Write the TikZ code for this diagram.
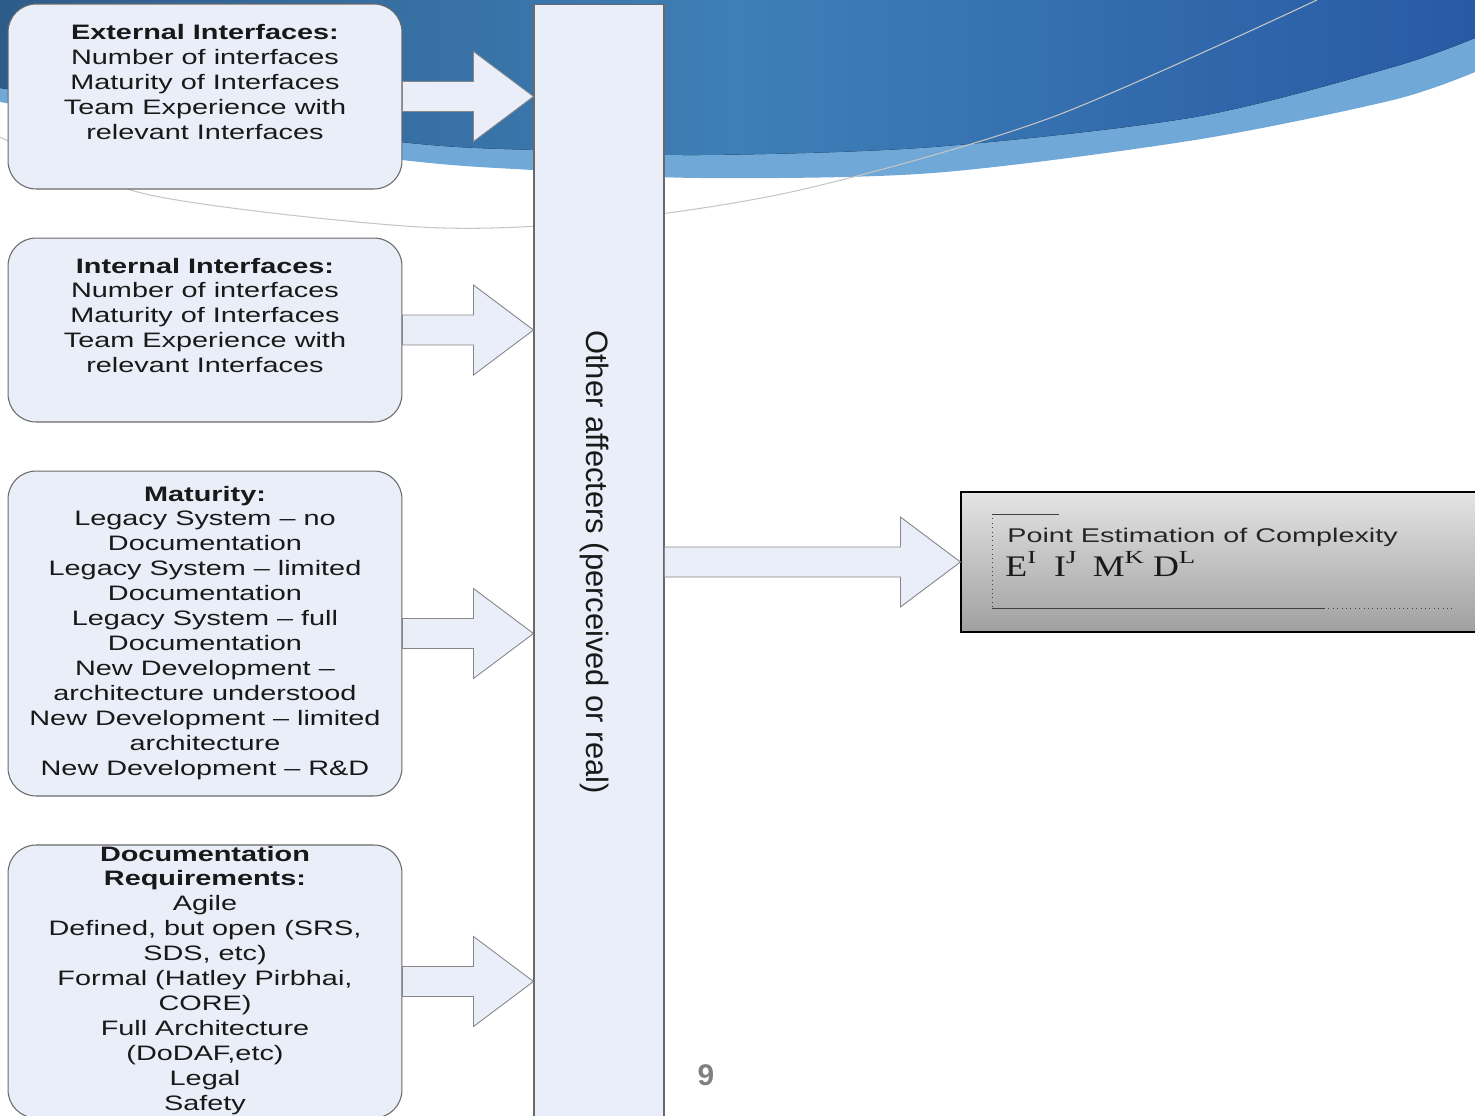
\documentclass[tikz,border=0pt]{standalone}
\usepackage{fontspec}
\usepackage{xcolor}
\usepackage{tikz}
\usetikzlibrary{positioning, calc}
\setmainfont{Liberation Sans}
\newfontfamily\boxfont[FakeStretch=1.38]{Liberation Sans}
\newfontfamily\estfont[FakeStretch=1.45]{Liberation Sans}
\newfontfamily\estserif[FakeStretch=1.2]{Liberation Serif}
\newfontfamily\exposerif[FakeStretch=1.45]{Liberation Serif}
\definecolor{boxfill}{RGB}{233,238,248}
\definecolor{boxline}{RGB}{105,105,105}
\definecolor{swooshA}{RGB}{45,92,138}
\definecolor{swooshB}{RGB}{62,127,183}
\definecolor{swooshC}{RGB}{40,90,164}
\definecolor{swooshband}{RGB}{112,168,215}
\definecolor{estTop}{RGB}{228,228,228}
\definecolor{estBottom}{RGB}{160,160,160}
\definecolor{pagegray}{RGB}{128,128,128}

% block arrow from #1 to #2 (same height)
\newcommand{\fatarrow}[2]{%
  \draw[fatarrow] ($(#1)+(0,-15)$) -- ($(#2)+(-60,-15)$) -- ($(#2)+(-60,-45)$) -- (#2)
    -- ($(#2)+(-60,45)$) -- ($(#2)+(-60,15)$) -- ($(#1)+(0,15)$) -- cycle;}
% exponent in the estimate
\newcommand{\expo}[1]{\raisebox{7.4pt}{\exposerif\fontsize{10.5}{11}\selectfont #1}}

\begin{document}
\begin{tikzpicture}[
  x=0.02cm, y=-0.02cm,
  node distance=0.96cm,
  factorbox/.style={draw=boxline, fill=boxfill, line width=0.6pt, rounded corners=0.56cm, minimum width=7.88cm, inner sep=0pt},
  factortext/.style={font=\boxfont\fontsize{11.9}{14.2}\selectfont, align=center, inner sep=0pt, text=black!90},
  colbox/.style={draw=boxline, fill=boxfill, line width=0.6pt, minimum width=2.6cm, minimum height=22.32cm, inner sep=0pt},
  coltext/.style={font=\fontsize{17.6}{20}\selectfont, rotate=-90, inner sep=0pt, text=black!90},
  estbox/.style={draw=black, line width=1.1pt, top color=estTop, bottom color=estBottom, minimum width=10.8cm, minimum height=2.8cm, inner sep=0pt},
  framepen/.style={draw=black!75, line width=0.5pt},
  fatarrow/.style={draw=boxline!80, fill=boxfill, line width=0.5pt},
]
\useasboundingbox (0,0) rectangle (1475,1116);

% background swoosh
\fill[swooshband] (0,0) -- (1475,0) -- plot[smooth] coordinates {(1475,72) (1393,100) (1195,140) (933,173) (700,178) (533,170) (420,162) (200,135) (0,102)} -- cycle;
\fill[left color=swooshA, right color=swooshC, middle color=swooshB] (0,0) -- (1475,0) -- plot[smooth] coordinates {(1475,38) (1393,67) (1195,117) (933,147) (700,155) (533,150) (420,144) (200,118) (0,88)} -- cycle;
\draw[gray!45, line width=0.6pt] plot[smooth] coordinates {(0,137) (150,195) (420,227) (600,221) (800,190) (1050,118) (1317,0)};

% factor boxes
\node[factorbox, minimum height=3.7cm] (ext) at (205,96.5) {};
\node[factorbox, minimum height=3.68cm, below=of ext] (int) {};
\node[factorbox, minimum height=6.5cm, below=of int] (mat) {};
\node[factorbox, minimum height=5.46cm, below=of mat] (doc) {};

\node[factortext, below=0.42cm of ext.north] (extt) {\textbf{External Interfaces:}\\Number of interfaces\\Maturity of Interfaces\\Team Experience with\\relevant Interfaces};
\node[factortext, below=0.40cm of int.north] (intt) {\textbf{Internal Interfaces:}\\Number of interfaces\\Maturity of Interfaces\\Team Experience with\\relevant Interfaces};
\node[factortext, below=0.30cm of mat.north] (matt) {\textbf{Maturity:}\\Legacy System – no\\Documentation\\Legacy System – limited\\Documentation\\Legacy System – full\\Documentation\\New Development –\\architecture understood\\New Development – limited\\architecture\\New Development – R\&D};
\node[factortext, below=0.02cm of doc.north] (doct) {\textbf{Documentation}\\\textbf{Requirements:}\\Agile\\Defined, but open (SRS,\\SDS, etc)\\Formal (Hatley Pirbhai,\\CORE)\\Full Architecture\\(DoDAF,etc)\\Legal\\Safety};

% other affecters column
\node[colbox] (col) at (599,562) {};
\node[coltext] (colt) at ($(col.center)+(-5,0)$) {Other affecters (perceived or real)};

% point estimation
\node[estbox, anchor=west, right=5.92cm of col] (est) {};
\node[anchor=west, inner sep=0pt, font=\estfont\fontsize{11.3}{13}\selectfont, text=black!85] (esttitle) at (1007,537) {Point Estimation of Complexity};
\node[anchor=base west, inner sep=0pt, font=\estserif\fontsize{17}{19}\selectfont, text=black!90] (estform) at (1005,576) {E\expo{I}\hspace{0.6em}I\expo{J}\hspace{0.55em}M\expo{K}\hspace{0.3em}D\expo{L}};
\draw[framepen] (992,514) -- (1059,514);
\draw[framepen, dotted] (992,514) -- (992,608);
\draw[framepen] (992,608) -- (1324,608);
\draw[framepen, dotted] (1324,608) -- (1453,608);

% arrows
\coordinate (tip1) at (col.west |- ext.east);
\coordinate (tip2) at (col.west |- int.east);
\coordinate (tip3) at (col.west |- mat.east);
\coordinate (tip4) at (col.west |- doc.east);
\coordinate (start5) at (col.east |- est.west);
\fatarrow{ext.east}{tip1}
\fatarrow{int.east}{tip2}
\fatarrow{mat.east}{tip3}
\fatarrow{doc.east}{tip4}
\fatarrow{start5}{est.west}

\node[font=\bfseries\fontsize{17}{20}\selectfont, text=pagegray] (pagenum) at (706,1075) {9};
\end{tikzpicture}
\end{document}
